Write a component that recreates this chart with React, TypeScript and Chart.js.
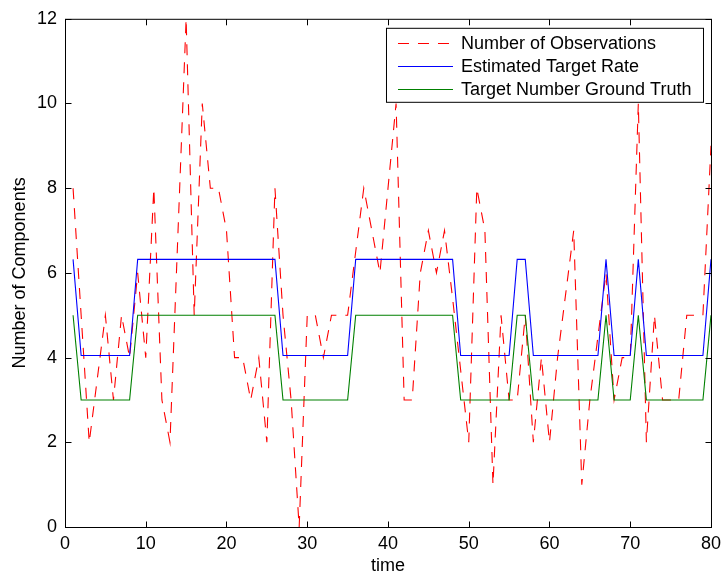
import React, { useEffect, useRef } from "react";
import { Chart, registerables } from "chart.js";

Chart.register(...registerables);

// ---------- data ----------
const times = [
  1, 2, 3, 4, 5, 6, 7, 8, 9, 10,
  11, 12, 13, 14, 15, 16, 17, 18, 19, 20,
  21, 22, 23, 24, 25, 26, 27, 28, 29, 30,
  31, 32, 33, 34, 35, 36, 37, 38, 39, 40,
  41, 42, 43, 44, 45, 46, 47, 48, 49, 50,
  51, 52, 53, 54, 55, 56, 57, 58, 59, 60,
  61, 62, 63, 64, 65, 66, 67, 68, 69, 70,
  71, 72, 73, 74, 75, 76, 77, 78, 79, 80,
];

const observations = [
  8, 5, 2, 3.5, 5, 3, 5, 4, 6, 4,
  8, 3, 2, 7, 12, 5, 10, 8, 8, 7,
  4, 4, 3, 4, 2, 8, 5, 3, 0, 5,
  5, 4, 5, 5, 5, 6.5, 8, 7, 6, 8,
  10, 3, 3, 6, 7, 6, 7, 5.4, 3.7, 2,
  8, 7, 1, 5, 3, 3, 5, 2, 4, 2,
  4, 5.5, 7, 1, 3, 4.5, 6, 3, 4, 4,
  10, 2, 5, 3, 3, 3, 5, 5, 5, 9,
];

const estimatedRate = [
  6.32, 4.05, 4.05, 4.05, 4.05, 4.05, 4.05, 4.05, 6.32, 6.32,
  6.32, 6.32, 6.32, 6.32, 6.32, 6.32, 6.32, 6.32, 6.32, 6.32,
  6.32, 6.32, 6.32, 6.32, 6.32, 6.32, 4.05, 4.05, 4.05, 4.05,
  4.05, 4.05, 4.05, 4.05, 4.05, 6.32, 6.32, 6.32, 6.32, 6.32,
  6.32, 6.32, 6.32, 6.32, 6.32, 6.32, 6.32, 6.32, 4.05, 4.05,
  4.05, 4.05, 4.05, 4.05, 4.05, 6.32, 6.32, 4.05, 4.05, 4.05,
  4.05, 4.05, 4.05, 4.05, 4.05, 4.05, 6.32, 4.05, 4.05, 4.05,
  6.32, 4.05, 4.05, 4.05, 4.05, 4.05, 4.05, 4.05, 4.05, 6.32,
];

const groundTruth = [
  5, 3, 3, 3, 3, 3, 3, 3, 5, 5,
  5, 5, 5, 5, 5, 5, 5, 5, 5, 5,
  5, 5, 5, 5, 5, 5, 3, 3, 3, 3,
  3, 3, 3, 3, 3, 5, 5, 5, 5, 5,
  5, 5, 5, 5, 5, 5, 5, 5, 3, 3,
  3, 3, 3, 3, 3, 5, 5, 3, 3, 3,
  3, 3, 3, 3, 3, 3, 5, 3, 3, 3,
  5, 3, 3, 3, 3, 3, 3, 3, 3, 5,
];

const xTicks = [0, 10, 20, 30, 40, 50, 60, 70, 80];
const yTicks = [0, 2, 4, 6, 8, 10, 12];

const seriesLabels = [
  "Number of Observations",
  "Estimated Target Rate",
  "Target Number Ground Truth",
];
const seriesColors = ["#ff0000", "#0000ff", "#008000"];
const xTitle = "time";
const yTitle = "Number of Components";

const FONT = '"Liberation Sans", Arial, Helvetica, sans-serif';
const DASH = [11, 9];

const toPoints = (vals: number[]) => vals.map((v, i) => ({ x: times[i], y: v }));

const framePlugin = {
  id: "matlabFrame",
  afterDraw(chart: any) {
    const { ctx, chartArea: a, scales } = chart;
    ctx.save();
    ctx.strokeStyle = "#000";
    ctx.lineWidth = 1;
    ctx.setLineDash([]);
    const L = a.left + 0.5;
    const R = a.right + 0.5;
    const T = a.top + 0.5;
    const B = a.bottom + 0.5;
    const tl = 6;
    ctx.beginPath();
    for (const v of xTicks) {
      const px = Math.round(scales.x.getPixelForValue(v)) + 0.5;
      ctx.moveTo(px, B);
      ctx.lineTo(px, B - tl);
      ctx.moveTo(px, T);
      ctx.lineTo(px, T + tl);
    }
    for (const v of yTicks) {
      const py = Math.round(scales.y.getPixelForValue(v)) + 0.5;
      ctx.moveTo(L, py);
      ctx.lineTo(L + tl, py);
      ctx.moveTo(R, py);
      ctx.lineTo(R - tl, py);
    }
    ctx.stroke();
    ctx.strokeRect(L, T, R - L, B - T);

    // legend
    const boxRight = a.right - 8;
    const boxTop = a.top + 9;
    const boxW = 317;
    const boxH = 74;
    const boxLeft = boxRight - boxW;
    ctx.fillStyle = "#fff";
    ctx.fillRect(boxLeft, boxTop, boxW, boxH);
    ctx.strokeStyle = "#000";
    ctx.lineWidth = 1;
    ctx.strokeRect(boxLeft + 0.5, boxTop + 0.5, boxW, boxH);
    ctx.font = `18px ${FONT}`;
    ctx.textBaseline = "middle";
    ctx.textAlign = "left";
    const rowY = [boxTop + 15, boxTop + 38, boxTop + 61];
    seriesLabels.forEach((lab, i) => {
      const y = Math.round(rowY[i]) + 0.5;
      ctx.strokeStyle = seriesColors[i];
      ctx.setLineDash(i === 0 ? DASH : []);
      ctx.beginPath();
      ctx.moveTo(boxLeft + 12, y);
      ctx.lineTo(boxLeft + 67, y);
      ctx.stroke();
      ctx.setLineDash([]);
      ctx.fillStyle = "#000";
      ctx.fillText(lab, boxLeft + 75, rowY[i] + 1);
    });
    ctx.restore();
  },
};

export default function App() {
  const canvasRef = useRef<HTMLCanvasElement | null>(null);

  useEffect(() => {
    const canvas = canvasRef.current;
    if (!canvas) return;
    const chart = new Chart(canvas, {
      type: "line",
      data: {
        datasets: [
          {
            label: seriesLabels[0],
            data: toPoints(observations),
            borderColor: seriesColors[0],
            borderWidth: 1.1,
            borderDash: DASH,
            pointRadius: 0,
            tension: 0,
            fill: false,
            order: 3,
          },
          {
            label: seriesLabels[1],
            data: toPoints(estimatedRate),
            borderColor: seriesColors[1],
            borderWidth: 1.1,
            pointRadius: 0,
            tension: 0,
            fill: false,
            order: 2,
          },
          {
            label: seriesLabels[2],
            data: toPoints(groundTruth),
            borderColor: seriesColors[2],
            borderWidth: 1.1,
            pointRadius: 0,
            tension: 0,
            fill: false,
            order: 1,
          },
        ],
      },
      options: {
        animation: false,
        responsive: false,
        devicePixelRatio: 1,
        layout: { padding: { left: 0, right: 14, top: 16, bottom: 0 } },
        plugins: {
          legend: { display: false },
          tooltip: { enabled: false },
        },
        scales: {
          x: {
            type: "linear",
            min: 0,
            max: 80,
            grid: { display: false, drawTicks: false },
            border: { display: false },
            afterBuildTicks: (scale: any) => {
              scale.ticks = xTicks.map((v) => ({ value: v }));
            },
            afterFit: (scale: any) => {
              scale.height = 54;
            },
            ticks: {
              autoSkip: false,
              maxRotation: 0,
              padding: 6,
              color: "#000",
              font: { family: FONT, size: 18 },
            },
            title: {
              display: true,
              text: xTitle,
              color: "#000",
              font: { family: FONT, size: 18 },
              padding: { top: 0, bottom: 4 },
            },
          },
          y: {
            type: "linear",
            min: 0,
            max: 12,
            grid: { display: false, drawTicks: false },
            border: { display: false },
            afterBuildTicks: (scale: any) => {
              scale.ticks = yTicks.map((v) => ({ value: v }));
            },
            afterFit: (scale: any) => {
              scale.width = 65;
            },
            ticks: {
              autoSkip: false,
              padding: 8,
              color: "#000",
              font: { family: FONT, size: 18 },
            },
            title: {
              display: true,
              text: yTitle,
              color: "#000",
              font: { family: FONT, size: 18 },
              padding: { top: 9, bottom: 0 },
            },
          },
        },
      },
      plugins: [framePlugin],
    });
    return () => chart.destroy();
  }, []);

  return (
    <div style={{ position: "absolute", left: 0, top: 0, width: 727, height: 581, background: "#fff" }}>
      <canvas ref={canvasRef} width={727} height={581} style={{ display: "block", width: 727, height: 581 }} />
    </div>
  );
}
